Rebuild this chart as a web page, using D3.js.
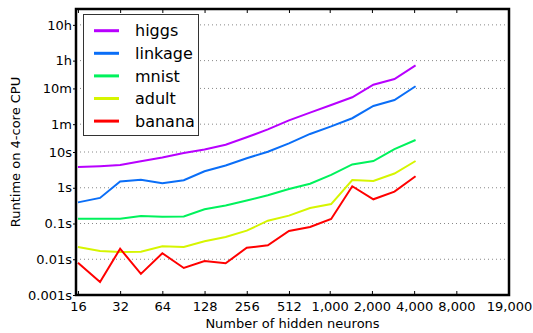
<!DOCTYPE html>
<html>
<head>
<meta charset="utf-8">
<script src="https://cdn.jsdelivr.net/npm/d3@7"></script>
<style>
body { margin: 0; background: #fff; }
text { font-family: "DejaVu Sans", sans-serif; fill: #000; }
</style>
</head>
<body>
<div id="chart"></div>
<script>
// hidden neurons (sqrt(2) steps from 16 to 4096)
var neurons = [16, 23, 32, 45, 64, 91, 128, 181, 256, 362, 512, 724, 1024, 1448, 2048, 2896, 4096];

// runtime in seconds
var higgs   = [3.8, 4.0, 4.3, 5.5, 7.0, 9.4, 11.8, 16, 25.8, 43, 77, 126, 206, 339, 760, 1100, 2660];
var linkage = [0.39, 0.52, 1.5, 1.68, 1.33, 1.62, 2.9, 4.2, 6.7, 10.2, 17.5, 32, 52, 88, 194, 284, 690];
var mnist   = [0.136, 0.136, 0.136, 0.162, 0.155, 0.158, 0.25, 0.32, 0.44, 0.62, 0.92, 1.3, 2.3, 4.5, 5.6, 12, 21.7];
var adult   = [0.022, 0.017, 0.016, 0.0163, 0.023, 0.022, 0.032, 0.042, 0.063, 0.12, 0.166, 0.27, 0.35, 1.65, 1.55, 2.5, 5.6];
var banana  = [0.008, 0.0023, 0.0197, 0.0039, 0.0147, 0.0057, 0.0089, 0.0077, 0.021, 0.0245, 0.062, 0.08, 0.134, 1.1, 0.475, 0.78, 2.1];

var seriesNames  = ["higgs", "linkage", "mnist", "adult", "banana"];
var seriesColors = ["#b800ff", "#0a6ef7", "#00f25c", "#d6f500", "#ff0000"];

var xTicks = [16, 32, 64, 128, 256, 512, 1000, 2000, 4000, 8000, 19000];
var yTicks = [0.001, 0.01, 0.1, 1, 10, 60, 600, 3600, 36000];
var yTickLabels = ["0.001s", "0.01s", "0.1s", "1s", "10s", "1m", "10m", "1h", "10h"];

var W = 533, H = 333;
var plotL = 76, plotR = 509, plotT = 9, plotB = 295;

var svg = d3.select("#chart").append("svg")
    .attr("width", W)
    .attr("height", H);

var x = d3.scaleLog().base(2).domain([15.5, 19000]).range([plotL, plotR]);
var y = d3.scaleLog().domain([0.001, 100000]).range([plotB, plotT]);

// dotted grid
svg.append("g").selectAll("line")
    .data(yTicks).enter().append("line")
    .attr("x1", plotL).attr("x2", plotR)
    .attr("y1", function(d){ return y(d); })
    .attr("y2", function(d){ return y(d); })
    .style("stroke", "#888")
    .style("stroke-width", 1)
    .style("stroke-dasharray", "1,3");

// series lines
var series = [higgs, linkage, mnist, adult, banana];
var line = d3.line()
    .x(function(d, i){ return x(neurons[i]); })
    .y(function(d){ return y(d); });

for (var i = 0; i < series.length; i++) {
    svg.append("path")
        .datum(series[i])
        .attr("d", line)
        .style("fill", "none")
        .style("stroke", seriesColors[i])
        .style("stroke-width", 2);
}

// axes
var fmt = d3.format(",");
var xAxis = d3.axisBottom(x).tickValues(xTicks)
    .tickFormat(function(d){ return d < 1000 ? d : fmt(d); })
    .tickSizeInner(-4).tickSizeOuter(0).tickPadding(7);
var gx = svg.append("g").attr("transform", "translate(0," + plotB + ")").call(xAxis);
gx.select(".domain").remove();
gx.selectAll("text").style("font-size", "13px").style("font-family", "DejaVu Sans");
gx.selectAll("line").style("stroke-width", 1);

var xTop = d3.axisTop(x).tickValues(xTicks).tickFormat("").tickSizeInner(-4).tickSizeOuter(0);
var gxt = svg.append("g").attr("transform", "translate(0," + plotT + ")").call(xTop);
gxt.select(".domain").remove();

var yAxis = d3.axisLeft(y).tickValues(yTicks)
    .tickFormat(function(d, i){ return yTickLabels[i]; })
    .tickSizeInner(3).tickSizeOuter(0).tickPadding(1);
var gy = svg.append("g").attr("transform", "translate(" + plotL + ",0)").call(yAxis);
gy.select(".domain").remove();
gy.selectAll("text").style("font-size", "13px").style("font-family", "DejaVu Sans");

// frame
svg.append("rect")
    .attr("x", plotL).attr("y", plotT)
    .attr("width", plotR - plotL).attr("height", plotB - plotT)
    .style("fill", "none")
    .style("stroke", "#000")
    .style("stroke-width", 2.5);

// axis titles
svg.append("text")
    .attr("x", (plotL + plotR) / 2).attr("y", 328)
    .attr("text-anchor", "middle")
    .style("font-size", "13px")
    .text("Number of hidden neurons");

svg.append("text")
    .attr("transform", "translate(20," + (plotT + plotB) / 2 + ") rotate(-90)")
    .attr("text-anchor", "middle")
    .style("font-size", "13px")
    .text("Runtime on 4-core CPU");

// legend
var lg = svg.append("g");
lg.append("rect")
    .attr("x", 83.5).attr("y", 14.5)
    .attr("width", 115).attr("height", 121)
    .style("fill", "#fff")
    .style("stroke", "#333")
    .style("stroke-width", 1);
for (var j = 0; j < seriesNames.length; j++) {
    var ly = 30.7 + j * 22.6;
    lg.append("line")
        .attr("x1", 94).attr("x2", 119)
        .attr("y1", ly).attr("y2", ly)
        .style("stroke", seriesColors[j])
        .style("stroke-width", 3);
    lg.append("text")
        .attr("x", 135).attr("y", ly)
        .attr("dy", "0.35em")
        .style("font-size", "16px")
        .text(seriesNames[j]);
}
</script>
</body>
</html>
